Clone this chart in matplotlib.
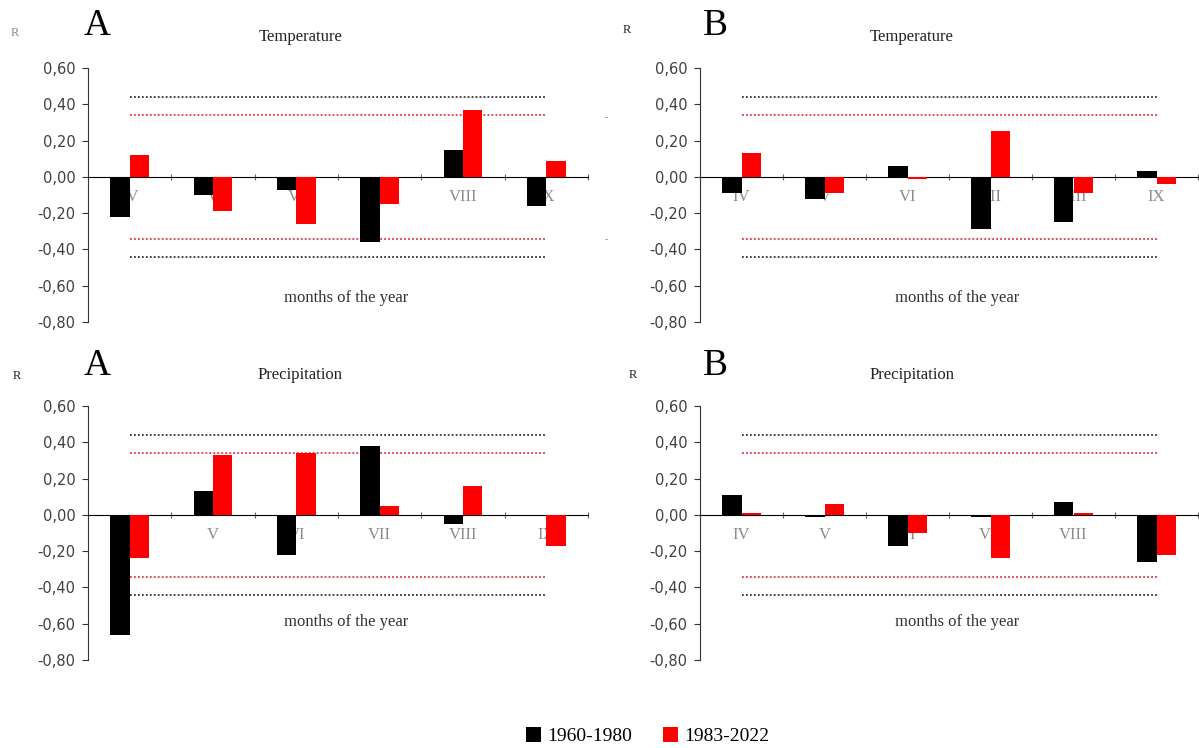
import numpy as np
import matplotlib.pyplot as plt
from matplotlib.patches import Patch

# months (categories)
months = ['IV', 'V', 'VI', 'VII', 'VIII', 'IX']

# correlation coefficients
temp_A_old = [-0.22, -0.10, -0.07, -0.36, 0.15, -0.16]
temp_A_new = [0.12, -0.19, -0.26, -0.15, 0.37, 0.09]
temp_B_old = [-0.09, -0.12, 0.06, -0.29, -0.25, 0.03]
temp_B_new = [0.13, -0.09, -0.01, 0.25, -0.09, -0.04]
prec_A_old = [-0.66, 0.13, -0.22, 0.38, -0.05, 0.00]
prec_A_new = [-0.24, 0.33, 0.34, 0.05, 0.16, -0.17]
prec_B_old = [0.11, -0.01, -0.17, -0.01, 0.07, -0.26]
prec_B_new = [0.01, 0.06, -0.10, -0.24, 0.01, -0.22]

# significance thresholds
sig_old = 0.44
sig_new = 0.34

yticks = [0.6, 0.4, 0.2, 0.0, -0.2, -0.4, -0.6, -0.8]
series_labels = ['1960-1980', '1983-2022']

SERIF = ['Liberation Serif', 'DejaVu Serif']
SANS = ['DejaVu Sans']

W, H = 1199, 748
fig = plt.figure(figsize=(W / 100, H / 100), dpi=100)


def px(x, y):
    return x / W, 1 - y / H


def panel(rect, old, new, title, letter, letter_xy, r_xy, r_color, months_y):
    ax = fig.add_axes(rect)
    x = np.arange(len(months))
    w = 0.23
    ax.bar(x - w / 2, old, w, color='black', zorder=3)
    ax.bar(x + w / 2, new, w, color='#ff0000', zorder=3)
    for i, m in enumerate(months):
        ax.text(i, -0.11, m, ha='center', va='center', color='#8a8a8a',
                fontsize=12, family=SERIF, zorder=2)
    for lvl in (sig_old, -sig_old):
        ax.plot([0, 5], [lvl, lvl], ls=(0, (1, 1.2)), color='#333333', lw=1.3, zorder=1)
    for lvl in (sig_new, -sig_new):
        ax.plot([0, 5], [lvl, lvl], ls=(0, (1, 1.2)), color='#e8304a', lw=1.3, zorder=1)
    ax.set_xlim(-0.5, 5.5)
    ax.set_ylim(-0.8, 0.6)
    ax.spines['top'].set_visible(False)
    ax.spines['right'].set_visible(False)
    ax.spines['bottom'].set_position(('data', 0))
    ax.spines['left'].set_color('#333333')
    ax.spines['left'].set_bounds(-0.8, 0.6)
    ax.set_xticks(np.arange(0.5, 6, 1))
    ax.set_xticklabels([])
    ax.tick_params(axis='x', direction='inout', length=5, color='#666666')
    ax.set_yticks(yticks)
    ax.set_yticklabels([f'{v:.2f}'.replace('.', ',') for v in yticks],
                       family=SANS, fontsize=10.5, color='#404040')
    ax.tick_params(axis='y', direction='out', length=4, pad=5, color='#333333')
    ax.patch.set_alpha(0)
    ax.text(2.6, months_y, 'months of the year', ha='center', va='center',
            fontsize=12, family=SERIF, color='#333333')
    ax.text(2.05, 0.77, title, ha='center', va='center', fontsize=12,
            family=SERIF, color='#222222', clip_on=False)
    fig.text(*px(*letter_xy), letter, ha='left', va='center', fontsize=27,
             family=SERIF, color='black')
    fig.text(*px(*r_xy), 'R', ha='center', va='center', fontsize=9,
             family=SERIF, color=r_color)
    return ax


panel([88 / W, 1 - 322 / H, 500 / W, 254 / H], temp_A_old, temp_A_new,
      'Temperature', 'A', (84, 26), (15, 33), '#888888', -0.67)
panel([700 / W, 1 - 322 / H, 498 / W, 254 / H], temp_B_old, temp_B_new,
      'Temperature', 'B', (703, 26), (627, 30), '#222222', -0.67)
panel([88 / W, 1 - 660 / H, 500 / W, 254 / H], prec_A_old, prec_A_new,
      'Precipitation', 'A', (84, 366), (17, 376), '#222222', -0.59)
panel([700 / W, 1 - 660 / H, 498 / W, 254 / H], prec_B_old, prec_B_new,
      'Precipitation', 'B', (703, 366), (633, 375), '#222222', -0.59)

# stray marks in the original scan
for y in (118, 240):
    fig.text(*px(606, y), '-', ha='center', va='center', fontsize=6, color='#e8304a')

handles = [Patch(facecolor='black'), Patch(facecolor='#ff0000')]
fig.legend(handles, series_labels, loc='center', bbox_to_anchor=(0.54, 1 - 736 / H),
           ncol=2, frameon=False, prop={'family': SERIF, 'size': 14},
           handlelength=0.8, handleheight=0.8, handletextpad=0.3, columnspacing=1.6)

fig.savefig('out.png', dpi=100)
